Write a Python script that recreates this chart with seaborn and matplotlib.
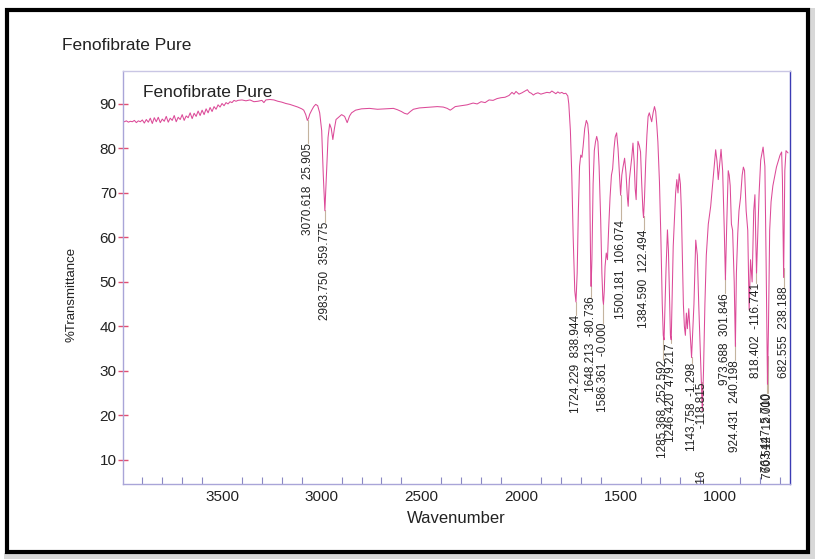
import numpy as np
import pandas as pd
import matplotlib
matplotlib.use("Agg")
import matplotlib.pyplot as plt
import seaborn as sns
from matplotlib import font_manager as fm
from matplotlib.patches import Rectangle
from matplotlib.ticker import MultipleLocator

# ---------------- data ----------------
wavenumber = [
    4000, 3990, 3980, 3970, 3960, 3950, 3940, 3930, 3920, 3910, 3900, 3890, 3880, 3870, 3860,
    3850, 3840, 3830, 3820, 3810, 3800, 3790, 3780, 3770, 3760, 3750, 3740, 3730, 3720, 3710,
    3700, 3690, 3680, 3670, 3660, 3650, 3640, 3630, 3620, 3610, 3600, 3590, 3580, 3570, 3560,
    3550, 3540, 3530, 3520, 3510, 3500, 3490, 3480, 3470, 3460, 3450, 3440, 3430, 3420, 3400,
    3380, 3360, 3340, 3320, 3300, 3290, 3280, 3260, 3240, 3220, 3200, 3180, 3160, 3140, 3120,
    3100, 3090, 3080, 3072, 3066, 3060, 3050, 3040, 3030, 3020, 3010, 3000, 2992, 2984, 2976,
    2968, 2960, 2952, 2944, 2936, 2928, 2915, 2900, 2885, 2872, 2860, 2850, 2830, 2800, 2760,
    2720, 2680, 2640, 2620, 2600, 2585, 2570, 2555, 2540, 2510, 2480, 2450, 2420, 2390, 2370,
    2355, 2345, 2330, 2300, 2270, 2240, 2220, 2200, 2180, 2160, 2140, 2120, 2100, 2080, 2060,
    2045, 2035, 2025, 2010, 1995, 1980, 1968, 1958, 1948, 1938, 1928, 1915, 1900, 1885, 1870,
    1855, 1845, 1835, 1825, 1815, 1805, 1795, 1785, 1775, 1765, 1760, 1752, 1745, 1738, 1730,
    1724, 1718, 1712, 1706, 1700, 1694, 1688, 1680, 1672, 1665, 1660, 1655, 1650, 1648, 1644,
    1638, 1632, 1626, 1620, 1614, 1608, 1600, 1594, 1589, 1586, 1582, 1578, 1572, 1566, 1560,
    1553, 1546, 1540, 1533, 1527, 1520, 1513, 1507, 1500, 1494, 1488, 1480, 1473, 1466, 1462,
    1456, 1450, 1444, 1438, 1432, 1427, 1422, 1418, 1413, 1406, 1400, 1394, 1388, 1385, 1380,
    1374, 1368, 1362, 1356, 1350, 1344, 1337, 1330, 1324, 1318, 1313, 1305, 1298, 1291, 1286,
    1282, 1277, 1272, 1265, 1260, 1254, 1250, 1246, 1242, 1236, 1230, 1224, 1218, 1212, 1206,
    1200, 1195, 1190, 1185, 1180, 1175, 1170, 1165, 1158, 1153, 1148, 1144, 1140, 1132, 1123,
    1115, 1108, 1100, 1090, 1084, 1077, 1070, 1060, 1048, 1040, 1032, 1023, 1016, 1010, 1004,
    996, 988, 980, 974, 968, 960, 955, 950, 944, 938, 930, 924, 919, 912, 906,
    898, 890, 884, 878, 870, 862, 855, 848, 840, 832, 826, 822, 818, 812, 805,
    797, 785, 776, 770, 763, 758, 752, 745, 736, 718, 700, 692, 688, 682, 676,
    670, 660,
]
transmittance = [
    86.1, 86.0, 86.2, 85.9, 86.1, 86.0, 86.3, 85.8, 86.2, 86.0, 86.4, 85.7, 86.5, 85.9, 86.8,
    85.6, 86.9, 86.0, 87.0, 85.8, 86.6, 86.1, 87.2, 85.9, 86.8, 86.3, 87.4, 86.0, 87.0, 86.5,
    87.6, 86.3, 87.3, 86.9, 88.0, 86.7, 87.9, 87.2, 88.4, 87.4, 88.6, 87.6, 88.9, 88.0, 89.2,
    88.3, 89.4, 88.8, 89.8, 89.3, 90.1, 89.6, 90.3, 90.0, 90.5, 90.3, 90.8, 90.6, 90.8, 90.9,
    90.7, 90.9, 90.5, 90.6, 90.8, 90.3, 90.9, 91.0, 90.9, 90.6, 90.4, 90.1, 89.9, 89.6, 89.3,
    88.9, 88.6, 87.6, 86.3, 86.8, 87.7, 88.6, 89.4, 89.9, 89.6, 88.0, 84.0, 74.0, 66.0, 74.0,
    82.5, 85.5, 84.5, 82.0, 84.5, 86.5, 87.0, 87.6, 87.2, 85.8, 87.3, 88.0, 88.6, 88.9, 89.0,
    88.8, 88.9, 89.0, 88.7, 88.3, 87.9, 87.7, 88.3, 88.8, 89.1, 89.2, 89.3, 89.4, 89.3, 89.0,
    88.6, 88.9, 89.4, 89.6, 89.8, 90.2, 90.0, 90.5, 90.3, 90.9, 90.8, 91.2, 91.4, 91.5, 91.9,
    92.6, 92.2, 92.8, 92.2, 92.5, 92.9, 93.2, 92.6, 92.4, 92.0, 92.3, 92.5, 92.2, 92.4, 92.6,
    92.5, 92.9, 92.6, 92.3, 92.7, 92.4, 92.6, 92.3, 92.4, 91.8, 90.0, 84.0, 74.0, 60.0, 48.0,
    45.5, 52.0, 66.0, 76.0, 78.5, 78.0, 80.5, 84.5, 86.3, 85.5, 83.0, 72.0, 52.0, 49.0, 55.0,
    72.0, 79.5, 81.5, 82.7, 81.5, 76.0, 64.0, 52.0, 46.0, 45.0, 48.0, 53.5, 56.5, 55.0, 62.0,
    69.0, 74.0, 75.4, 80.0, 82.6, 83.5, 80.0, 75.0, 69.5, 74.0, 75.8, 77.8, 74.5, 69.0, 67.0,
    73.0, 75.5, 78.0, 81.2, 77.0, 71.0, 68.5, 75.0, 81.6, 80.6, 79.2, 72.0, 66.0, 64.5, 69.0,
    77.0, 83.0, 87.2, 88.0, 87.0, 86.0, 88.0, 89.4, 88.3, 85.0, 81.5, 72.4, 60.0, 45.0, 38.0,
    37.0, 45.0, 53.0, 61.7, 57.0, 45.0, 38.0, 37.0, 45.0, 58.0, 64.0, 70.0, 73.0, 70.0, 74.3,
    72.0, 66.0, 55.0, 45.0, 40.0, 38.0, 43.0, 39.5, 44.0, 40.0, 36.0, 33.0, 37.0, 45.0, 59.4,
    56.0, 45.0, 34.0, 21.0, 30.0, 45.0, 56.0, 63.0, 67.0, 71.0, 75.0, 79.7, 77.0, 73.0, 76.0,
    79.8, 75.0, 62.0, 50.5, 62.0, 75.0, 74.0, 71.6, 63.0, 61.6, 50.0, 35.5, 52.0, 61.0, 66.0,
    69.0, 74.0, 75.8, 75.0, 66.0, 61.6, 43.7, 55.0, 50.0, 66.0, 69.6, 60.0, 52.0, 60.0, 70.0,
    77.4, 80.3, 76.0, 55.0, 27.0, 40.0, 61.6, 68.0, 71.6, 75.8, 78.5, 79.2, 73.0, 51.0, 75.0,
    79.5, 79.0,
]

peak_wn = [3070.618, 2983.750, 1724.229, 1648.213, 1586.361, 1500.181, 1384.590,
           1285.368, 1246.420, 1143.758, 1090.716, 973.688, 924.431, 818.402,
           763.447, 760.512, 682.555]
peak_value = ["25.905", "359.775", "838.944", "-80.736", "-0.000", "106.074", "122.494",
              "252.592", "479.217", "-1.298", "-118.815", "301.846", "240.198", "-116.741",
              "5.710", "12.000", "238.188"]
label_top = [81.2, 63.5, 42.6, 46.7, 40.8, 63.9, 61.7,
             32.5, 36.3, 31.8, 27.5, 47.5, 32.5, 49.8,
             25.0, 25.0, 48.9]
label_gap = ["  ", "  ", "  ", "  ", "  ", "  ", "  ",
             "  ", "  ", "  ", "             ", "  ", "  ", "  ",
             "  ", "  ", "  "]

xticks = [3500, 3000, 2500, 2000, 1500, 1000]
yticks = [10, 20, 30, 40, 50, 60, 70, 80, 90]
sample_name = "Fenofibrate Pure"

# ---------------- style ----------------
sns.set_theme(style="white")
names = {f.name for f in fm.fontManager.ttflist}
narrow = "Liberation Sans Narrow" in names
plt.rcParams["font.family"] = ["Liberation Sans", "DejaVu Sans"]
narrow_family = ["Liberation Sans Narrow", "Liberation Sans", "DejaVu Sans"] if narrow else ["Liberation Sans", "DejaVu Sans"]
peak_fs = 10.5 if narrow else 8.5
ylab_fs = 12.5 if narrow else 9.5

line_color = "#dc4a98"
conn_color = "#c4b39e"

fig = plt.figure(figsize=(8.15, 5.59), dpi=100)
fig.patch.set_facecolor("white")
ax = fig.add_axes([123 / 815, 1 - 484 / 559, 667 / 815, 413 / 559])

df = pd.DataFrame({"Wavenumber": wavenumber, "T": transmittance})
sns.lineplot(data=df, x="Wavenumber", y="T", sort=False, estimator=None,
             color=line_color, lw=0.75, ax=ax)

ax.set_xlim(3997, 650)
ax.set_ylim(4.6, 97.4)

# peak annotations
wn_inc = np.array(wavenumber[::-1], dtype=float)
t_inc = np.array(transmittance[::-1], dtype=float)
for wn, val, top, gap in zip(peak_wn, peak_value, label_top, label_gap):
    dip = float(np.interp(wn, wn_inc, t_inc))
    ax.plot([wn, wn], [dip, top], color=conn_color, lw=0.8, zorder=1)
    ax.text(wn, top, f"{wn:.3f}{gap}{val}", rotation=90, ha="center", va="top",
            fontsize=peak_fs, family=narrow_family, color="#222222", clip_on=True)

ax.text(20 / 667, 1 - 21 / 413, sample_name, transform=ax.transAxes,
        ha="left", va="center", fontsize=12.5, color="#222222")

# axes styling
ax.set_xticks(xticks)
ax.set_xticklabels([str(v) for v in xticks])
ax.set_yticks(yticks)
ax.set_yticklabels([str(v) for v in yticks])
ax.xaxis.set_minor_locator(MultipleLocator(100))
ax.tick_params(axis="x", which="major", direction="in", length=8, width=1,
               color="#e05075", labelsize=11, pad=4, labelcolor="#222222")
ax.tick_params(axis="x", which="minor", direction="in", length=5, width=0.8,
               color="#8a88c4", bottom=True)
ax.tick_params(axis="y", which="major", direction="inout", length=7, width=1,
               color="#e05075", labelsize=11, pad=1, labelcolor="#222222", left=True)

for side, c in [("left", "#a9a5d8"), ("bottom", "#a9a5d8"), ("top", "#c9c6e4"), ("right", "#3c3cb4")]:
    ax.spines[side].set_color(c)
    ax.spines[side].set_linewidth(1.0)
    ax.spines[side].set_visible(True)

ax.set_xlabel("Wavenumber", fontsize=12, color="#222222")
ax.set_ylabel("%Transmittance", fontsize=ylab_fs, color="#222222", family=narrow_family)
ax.xaxis.set_label_coords(0.5, -0.066)
ax.yaxis.set_label_coords(-0.0765, 0.458)
ax.xaxis.label.set_va("top")
ax.yaxis.label.set_va("center")

fig.text(62 / 815, 1 - 46 / 559, sample_name, ha="left", va="center",
         fontsize=12.5, color="#222222")

# outer frame
fig.patches.append(Rectangle((809 / 815, 4 / 559), 6 / 815, 547 / 559, transform=fig.transFigure,
                             facecolor="#d8d8d8", edgecolor="none", zorder=0))
fig.patches.append(Rectangle((4 / 815, 0), 811 / 815, 6 / 559, transform=fig.transFigure,
                             facecolor="#d8d8d8", edgecolor="none", zorder=0))
fig.patches.append(Rectangle((7 / 815, 7 / 559), 801 / 815, 542 / 559, transform=fig.transFigure,
                             fill=False, edgecolor="black", lw=3, zorder=5))

fig.savefig("out.png", dpi=100)
